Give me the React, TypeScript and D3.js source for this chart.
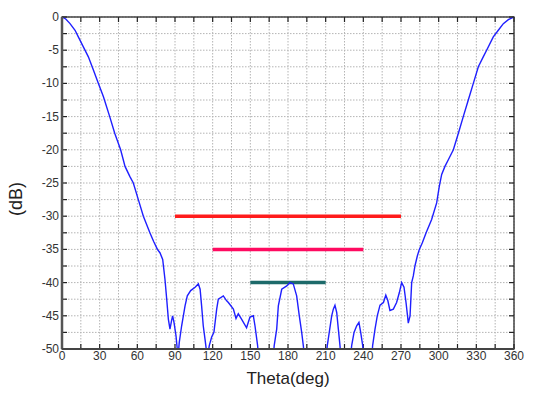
import * as d3 from 'd3';

// pattern cut
const thetaDeg = [
  0, 3, 6.4, 10.4, 13, 17, 21, 25, 29, 33, 38, 42, 46.7, 50.2, 54, 56.8, 60.8, 64.8, 70, 73,
  76, 78, 80.2, 82, 83.4, 84.7, 86, 87.3, 88.1, 89.2, 90.8, 91.8, 92.5, 93.4, 95.3, 98, 99.8,
  102.5, 106, 108.6, 110, 111.2, 112.5, 113.9, 115.2, 116, 117.3, 119.2, 121, 123.2, 124.5,
  128.5, 131, 132.5, 136.5, 138.6, 140.4, 143, 147, 149.7, 152.4, 153.7, 155.8, 157, 160, 165,
  168, 169, 171, 172.3, 175, 179, 181.6, 184.2, 186.9, 189, 190.9, 192.2, 193.5, 198, 205, 210,
  211.3, 214.8, 216.1, 217.4, 218.8, 220.1, 221.4, 222.5, 226, 229.5, 230.7, 232.6, 234.7,
  236.5, 237.9, 239.5, 240.5, 243, 246.5, 247.4, 249.3, 251.1, 253.3, 256, 257.9, 259.5, 261.2,
  263.9, 266.5, 268.7, 270.5, 272.4, 274, 275.2, 275.8, 277.2, 278.5, 279.8, 281.1, 283, 284.6,
  287, 290, 294.4, 298.4, 300.5, 302.4, 305, 307.7, 311.7, 315.7, 319.6, 323.6, 327.6, 331.6,
  335.5, 338.2, 343.5, 347.5, 351.5, 355.5, 360,
];
const gainDb = [
  0, -0.3, -1, -2, -3, -4.5, -6, -8, -10, -12, -15, -17.5, -20, -22.5, -24, -25, -27.5, -30, -32.5, -33.8,
  -35, -35.5, -36.5, -39.5, -42.5, -45.5, -47, -45.7, -45, -46, -48, -50, -51, -49, -46.5, -43.5, -42,
  -41.2, -40.7, -40.2, -41, -43.5, -46.5, -48.5, -50.5, -51, -49.5, -48.2, -47.5, -44, -42.5,
  -42, -42.7, -43, -44, -45.4, -44.7, -45.5, -46.8, -45.2, -45, -46.5, -49.5, -52, -60, -58,
  -52, -49.5, -47, -43.5, -41, -40.5, -40, -40.2, -42, -45, -47.5, -49.5, -52, -58, -56, -52,
  -49.5, -45, -44, -43.4, -44.5, -47, -49.5, -52, -56, -52, -49.5, -47.5, -46.5,
  -46, -47.5, -49.5, -52, -55, -52, -49.5, -47, -45, -43.4, -43, -41.9, -42.7, -44.2,
  -44, -43, -41.5, -40, -40.7, -43, -45, -46.1, -45, -40, -39, -37.5, -36, -35,
  -34, -32.5, -30.5, -28, -25.5, -23.7, -22.5, -21.5, -20, -17.5, -15, -12.5, -10, -7.5,
  -6, -5, -3, -2, -1, -0.4, 0,
];

// mask lines: level, start angle, end angle
const maskLevels = [-30, -35, -40];
const maskStart = [90, 120, 150];
const maskEnd = [270, 240, 210];

const xTicks = d3.range(0, 361, 30);
const yTicks = d3.range(-50, 1, 5);
const xGrid = d3.range(0, 361, 15);
const yGrid = d3.range(-50, 0.1, 2.5);

export default function App() {
  const width = 550;
  const height = 394;
  const left = 62;
  const right = 514;
  const top = 17;
  const bottom = 349;

  const x = d3.scaleLinear().domain([0, 360]).range([left, right]);
  const y = d3.scaleLinear().domain([-50, 0]).range([bottom, top]);

  const line = d3
    .line<number>()
    .x((_, i) => x(thetaDeg[i]))
    .y((d) => y(d));

  const maskColors = ['#ff1c1c', '#ff0a60', '#1d6a6a'];
  const font = 'Arial, "Liberation Sans", sans-serif';

  return (
    <svg
      width={width}
      height={height}
      style={{ position: 'absolute', left: 0, top: 0, background: '#fff' }}
    >
      <defs>
        <clipPath id="plot">
          <rect x={left} y={top} width={right - left} height={bottom - top} />
        </clipPath>
      </defs>

      {/* dotted grid */}
      {xGrid.map((d) => (
        <line key={'gx' + d} x1={x(d)} x2={x(d)} y1={top} y2={bottom}
          stroke="#b4b4b4" strokeDasharray="1.5,1.5" />
      ))}
      {yGrid.map((d) => (
        <line key={'gy' + d} x1={left} x2={right} y1={y(d)} y2={y(d)}
          stroke="#b4b4b4" strokeDasharray="1.5,1.5" />
      ))}

      {/* ticks inside the frame */}
      {xGrid.map((d) => (
        <g key={'tx' + d} stroke="#222" strokeWidth={1.2}>
          <line x1={x(d)} x2={x(d)} y1={top} y2={top + 5} />
          <line x1={x(d)} x2={x(d)} y1={bottom} y2={bottom - 5} />
        </g>
      ))}
      {yGrid.map((d) => (
        <g key={'ty' + d} stroke="#222" strokeWidth={1.2}>
          <line x1={left} x2={left + 5} y1={y(d)} y2={y(d)} />
          <line x1={right} x2={right - 5} y1={y(d)} y2={y(d)} />
        </g>
      ))}

      {/* mask lines */}
      {maskLevels.map((lv, i) => (
        <line key={'m' + i} x1={x(maskStart[i])} x2={x(maskEnd[i])} y1={y(lv)} y2={y(lv)}
          stroke={maskColors[i]} strokeWidth={3.5} />
      ))}

      <path d={line(gainDb) ?? ''} fill="none" stroke="#1f1fff" strokeWidth={1.4}
        clipPath="url(#plot)" />

      {/* frame */}
      <rect x={left} y={top} width={right - left} height={bottom - top}
        fill="none" stroke="#2a2a2a" strokeWidth={1.3} />
      <line x1={left} x2={left} y1={top} y2={bottom} stroke="#555" strokeWidth={2.5} />
      <line x1={left} x2={right} y1={bottom} y2={bottom} stroke="#444" strokeWidth={2} />

      {/* tick labels */}
      {xTicks.map((d) => (
        <text key={'lx' + d} x={x(d)} y={bottom + 11} textAnchor="middle"
          fontFamily={font} fontSize={12} fill="#333">{d}</text>
      ))}
      {yTicks.map((d) => (
        <text key={'ly' + d} x={left - 3} y={y(d) + 4} textAnchor="end"
          fontFamily={font} fontSize={12} fill="#333">{d}</text>
      ))}

      <text x={(left + right) / 2} y={384} textAnchor="middle" fontFamily={font}
        fontSize={17} fill="#222">Theta(deg)</text>
      <text transform={`translate(22,${199}) rotate(-90)`} textAnchor="middle"
        fontFamily={font} fontSize={18} fill="#222">(dB)</text>
    </svg>
  );
}
